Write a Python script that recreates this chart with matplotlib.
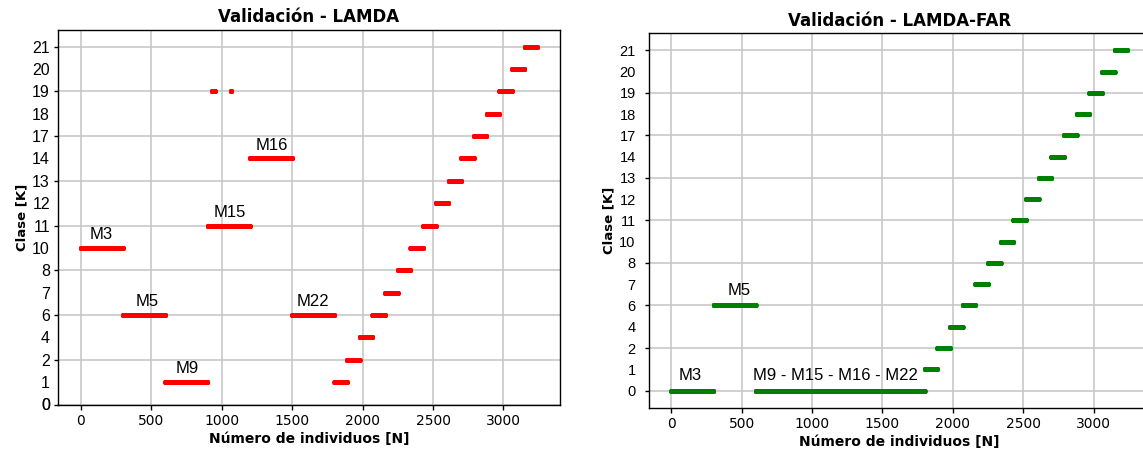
import numpy as np
import matplotlib.pyplot as plt
from matplotlib import transforms

# clases en el eje y (posiciones categoricas 0..16)
clases = ['0', '1', '2', '4', '6', '7', '8', '10', '11', '12', '13', '14',
          '17', '18', '19', '20', '21']

# primeras 1800 muestras: 6 bloques de 300 (una falla por bloque)
bloque_ini = [0, 300, 600, 900, 1200, 1500]
bloque_fin = [300, 600, 900, 1200, 1500, 1800]
clase_lamda = ['10', '6', '1', '11', '14', '6']
clase_far = ['0', '6', '0', '0', '0', '0']

# ultimas 1440 muestras: 90 por clase
escalon_ini = [1800, 1890, 1980, 2070, 2160, 2250, 2340, 2430, 2520, 2610,
               2700, 2790, 2880, 2970, 3060, 3150]
escalon_fin = [1890, 1980, 2070, 2160, 2250, 2340, 2430, 2520, 2610, 2700,
               2790, 2880, 2970, 3060, 3150, 3240]
escalon_clase = ['1', '2', '4', '6', '7', '8', '10', '11', '12', '13', '14',
                 '17', '18', '19', '20', '21']

# LAMDA: algunas muestras de M15 asignadas a la clase 19
error_ini = [931, 1063]
error_fin = [952, 1068]
error_clase = ['19', '19']

# etiquetas de los bloques
etiq_lamda = ['M3', 'M5', 'M9', 'M15', 'M16', 'M22']
etiq_lamda_x = [144, 472, 756, 1057, 1357, 1645]
etiq_lamda_y = ['10', '6', '1', '11', '14', '6']
etiq_far = ['M3', 'M5', 'M9 - M15 - M16 - M22']
etiq_far_x = [136, 482, 1169]
etiq_far_y = ['0', '6', '0']


def rellenar(y, ini, fin, cl):
    for a, b, c in zip(ini, fin, cl):
        y[a:b] = clases.index(c)


n = escalon_fin[-1]
x = np.arange(n)

y_lamda = np.zeros(n)
rellenar(y_lamda, bloque_ini, bloque_fin, clase_lamda)
rellenar(y_lamda, escalon_ini, escalon_fin, escalon_clase)
rellenar(y_lamda, error_ini, error_fin, error_clase)

y_far = np.zeros(n)
rellenar(y_far, bloque_ini, bloque_fin, clase_far)
rellenar(y_far, escalon_ini, escalon_fin, escalon_clase)

W, H = 1143, 453
fig = plt.figure(figsize=(W / 100, H / 100), dpi=100)
ax1 = fig.add_axes([57.9 / W, 1 - 404.5 / H, 502.1 / W, 374.5 / H])
ax2 = fig.add_axes([648.5 / W, 1 - 408 / H, 501.5 / W, 374.7 / H])


def ejes(ax, titulo, ylim, tam_y, pad_y):
    ax.set_xlim(-162, 3401)
    ax.set_ylim(*ylim)
    ax.set_xticks(range(0, 3001, 500))
    ax.set_yticks(range(0, 17, 2), clases[::2], fontfamily='Liberation Sans',
                  fontsize=tam_y)
    ax.set_yticks(range(1, 17, 2), clases[1::2], minor=True,
                  fontfamily='Liberation Sans', fontsize=tam_y)
    ax.tick_params(axis='x', length=3.5, width=1, pad=3, labelsize=10)
    ax.tick_params(axis='y', which='major', length=3.2, width=1, pad=pad_y)
    ax.tick_params(axis='y', which='minor', length=0, pad=pad_y + 3.2)
    ax.grid(True, which='major', color='#c4c4c4', lw=1.1)
    ax.set_axisbelow(True)
    for s in ax.spines.values():
        s.set_linewidth(1.0)
        s.set_color('black')
    ax.set_title(titulo, fontsize=12, fontweight='bold', pad=5.5)
    ax.set_xlabel('Número de individuos [N]', fontsize=10, fontweight='bold',
                  labelpad=3)
    ax.set_ylabel('Clase [K]', fontsize=9.5, fontweight='bold', labelpad=3)


# --- LAMDA
ax1.plot(x, y_lamda, 'o', ms=3.6, mew=0, color='#ff0000')
ejes(ax1, 'Validación - LAMDA', (0.23, 16.74), 11.5, 2.5)
# la etiqueta "0" queda justo bajo el borde inferior
tr = transforms.blended_transform_factory(ax1.transAxes, ax1.transData)
tr = tr + transforms.ScaledTranslation(-(3.2 + 2.5) / 72, 0, fig.dpi_scale_trans)
ax1.text(0, 0, clases[0], transform=tr, ha='right', va='center_baseline',
         fontfamily='Liberation Sans', fontsize=11.5, clip_on=False)
for t, tx, ty in zip(etiq_lamda, etiq_lamda_x, etiq_lamda_y):
    ax1.annotate(t, (tx, clases.index(ty)), xytext=(0, 9.6),
                 textcoords='offset points', ha='center', va='center',
                 fontfamily='Liberation Sans', fontsize=12)

# --- LAMDA-FAR
ax2.plot(x, y_far, 'o', ms=3.6, mew=0, color='#008000')
ejes(ax2, 'Validación - LAMDA-FAR', (-0.82, 16.8), 10.5, 6)
for t, tx, ty in zip(etiq_far, etiq_far_x, etiq_far_y):
    ax2.annotate(t, (tx, clases.index(ty)), xytext=(0, 10.5),
                 textcoords='offset points', ha='center', va='center',
                 fontfamily='Liberation Sans', fontsize=12)

fig.savefig('out.png', dpi=100)
